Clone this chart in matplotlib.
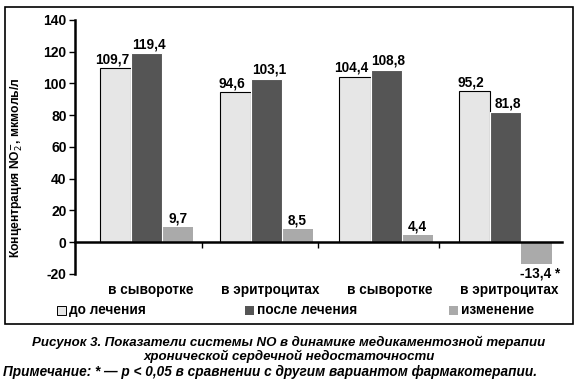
import matplotlib
matplotlib.use("Agg")
import matplotlib.pyplot as plt
from matplotlib.patches import Rectangle
from matplotlib.transforms import blended_transform_factory
import numpy as np

plt.rcParams['font.family'] = ['Liberation Sans', 'DejaVu Sans']

# данные
categories = ["в сыворотке", "в эритроцитах", "в сыворотке", "в эритроцитах"]
do_lecheniya = [109.7, 94.6, 104.4, 95.2]
posle_lecheniya = [119.4, 103.1, 108.8, 81.8]
izmenenie = [9.7, 8.5, 4.4, -13.4]
izm_labels = ["9,7", "8,5", "4,4", "-13,4 *"]
series_names = ["до лечения", "после лечения", "изменение"]

c_light = "#e6e6e6"
c_dark = "#555555"
c_mid = "#aaaaaa"

fig = plt.figure(figsize=(5.78, 3.83), dpi=100)
ax = fig.add_axes([0.1298, 0.2846, 0.8425, 0.6632])

x = np.arange(len(categories))
w = 0.26

ax.bar(x - w, do_lecheniya, w, color=c_light, edgecolor="black", linewidth=0.8, zorder=2)
ax.bar(x, posle_lecheniya, w, color=c_dark, edgecolor="white", linewidth=0.8, zorder=3)
ax.bar(x + w, izmenenie, w, color=c_mid, edgecolor="none", zorder=2)

def fmt(v):
    return f"{v:.1f}".replace(".", ",")

for i in range(len(categories)):
    ax.text(x[i] - w - 0.03, do_lecheniya[i] + 1, fmt(do_lecheniya[i]), ha="center", va="bottom",
            fontsize=9.8, fontweight="bold")
    ax.text(x[i] + 0.02, posle_lecheniya[i] + 1, fmt(posle_lecheniya[i]), ha="center", va="bottom",
            fontsize=9.8, fontweight="bold")
    if izmenenie[i] >= 0:
        ax.text(x[i] + w, izmenenie[i] + 1, izm_labels[i], ha="center", va="bottom",
                fontsize=9.8, fontweight="bold")
    else:
        ax.text(x[i] + w + 0.03, izmenenie[i] - 2, izm_labels[i], ha="center", va="top",
                fontsize=9.8, fontweight="bold")

ax.set_xlim(-0.6, 3.47)
ax.set_ylim(-20, 140)
ax.set_yticks(np.arange(-20, 141, 20))
ax.set_yticklabels([str(v) for v in range(-20, 141, 20)], fontsize=10, fontweight="bold")

ax.spines["top"].set_visible(False)
ax.spines["right"].set_visible(False)
ax.spines["left"].set_linewidth(1.8)
ax.spines["bottom"].set_position(("data", 0))
ax.spines["bottom"].set_linewidth(1.8)
ax.spines["bottom"].set_zorder(4)
ax.tick_params(axis="y", length=4, width=1, pad=2)
ax.set_xticks([0.46, 1.43, 2.44])
ax.set_xticklabels([])
ax.tick_params(axis="x", direction="out", length=4, width=1)

# подписи категорий под осью
trans = blended_transform_factory(ax.transData, ax.transAxes)
for i, name in enumerate(categories):
    ax.text(x[i] + 0.03, -0.035, name, transform=trans, ha="center", va="top",
            fontsize=9.8, fontweight="bold")

ax.set_ylabel("Концентрация NO$_2^{\\mathbf{-}}$, мкмоль/л", fontsize=8.7, fontweight="bold")
ax.yaxis.set_label_coords(-0.103, 0.42)

# рамка
fig.patches.append(Rectangle((0.0087, 0.154), 0.9822, 0.8277, transform=fig.transFigure,
                             fill=False, edgecolor="black", linewidth=1.2))

# легенда
leg_y = 1 - 310 / 383
colors = [c_light, c_dark, c_mid]
leg_x = [57, 245, 449]
for lx, col, name in zip(leg_x, colors, series_names):
    fig.patches.append(Rectangle((lx / 578, leg_y - 4.5 / 383), 9 / 578, 9 / 383,
                                 transform=fig.transFigure, facecolor=col,
                                 edgecolor="black" if col == c_light else "none", linewidth=0.7))
    fig.text((lx + 12) / 578, leg_y, name, ha="left", va="center", fontsize=9.8, fontweight="bold")

# подпись рисунка
fig.text(0.5, 1 - 342 / 383, "Рисунок 3. Показатели системы NO в динамике медикаментозной терапии",
         ha="center", va="center", fontsize=9.5, fontweight="bold", style="italic")
fig.text(0.5, 1 - 356 / 383, "хронической сердечной недостаточности",
         ha="center", va="center", fontsize=9.5, fontweight="bold", style="italic")
fig.text(0.005, 1 - 372 / 383, "Примечание: * — p < 0,05 в сравнении с другим вариантом фармакотерапии.",
         ha="left", va="center", fontsize=9.8, fontweight="bold", style="italic")

fig.savefig("out.png", dpi=100)
